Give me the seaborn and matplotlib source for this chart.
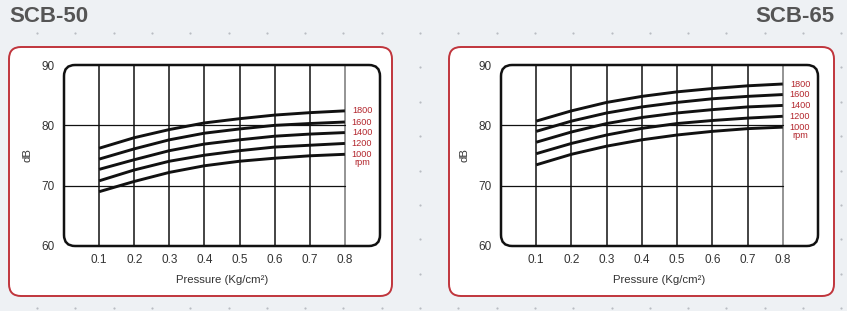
import numpy as np
import pandas as pd
import matplotlib
matplotlib.use("Agg")
import matplotlib.pyplot as plt
from matplotlib.patches import FancyBboxPatch
import seaborn as sns

sns.set_theme(style="white")
plt.rcParams['font.family'] = ['Liberation Sans', 'DejaVu Sans']

pressure = [0.1, 0.2, 0.3, 0.4, 0.5, 0.6, 0.7, 0.8]
rpm_labels = ["1800", "1600", "1400", "1200", "1000"]

scb50_1800 = [76.2, 77.95, 79.3, 80.4, 81.1, 81.7, 82.1, 82.4]
scb50_1600 = [74.4, 76.1, 77.6, 78.7, 79.4, 80.0, 80.3, 80.55]
scb50_1400 = [72.7, 74.3, 75.8, 76.9, 77.6, 78.2, 78.55, 78.8]
scb50_1200 = [70.8, 72.6, 74.05, 75.05, 75.8, 76.4, 76.7, 77.0]
scb50_1000 = [69.0, 70.7, 72.2, 73.3, 74.05, 74.55, 74.95, 75.2]

scb65_1800 = [80.7, 82.4, 83.8, 84.8, 85.55, 86.1, 86.55, 86.85]
scb65_1600 = [79.0, 80.7, 82.05, 83.05, 83.8, 84.4, 84.8, 85.1]
scb65_1400 = [77.2, 78.9, 80.3, 81.3, 82.05, 82.6, 83.05, 83.3]
scb65_1200 = [75.3, 77.0, 78.4, 79.5, 80.3, 80.8, 81.2, 81.5]
scb65_1000 = [73.45, 75.2, 76.55, 77.6, 78.4, 79.0, 79.45, 79.7]

titles = ["SCB-50", "SCB-65"]
yticks = [60, 70, 80, 90]
xlabel = "Pressure (Kg/cm²)"
ylabel = "dB"

series = {
    "SCB-50": [scb50_1800, scb50_1600, scb50_1400, scb50_1200, scb50_1000],
    "SCB-65": [scb65_1800, scb65_1600, scb65_1400, scb65_1200, scb65_1000],
}

W, H = 847, 311
fig = plt.figure(figsize=(W / 100, H / 100), dpi=100)
bg = "#eef1f4"
fig.patch.set_facecolor(bg)

# background dot pattern (decoration)
dot_x = np.arange(37, W, 38.3)
dot_y = np.arange(33, H, 34.4)
gx, gy = np.meshgrid(dot_x, dot_y)
bgax = fig.add_axes([0, 0, 1, 1], zorder=-10)
bgax.set_xlim(0, W); bgax.set_ylim(H, 0); bgax.axis("off")
bgax.scatter(gx.ravel(), gy.ravel(), s=2.5, color="#b9bdc2", linewidths=0)

red = "#c0353c"
panels = [(9, 47, 392, 296), (449, 47, 834, 296)]
axes_px = [(64, 65, 380, 246), (501, 65, 818, 246)]

for (x0, y0, x1, y1) in panels:
    p = FancyBboxPatch((x0, y0), x1 - x0, y1 - y0,
                       boxstyle="round,pad=0,rounding_size=12",
                       facecolor="white", edgecolor=red, linewidth=1.4,
                       transform=bgax.transData, zorder=1)
    bgax.add_patch(p)

fig.text(9 / W, 1 - 17 / H, titles[0], ha="left", va="center",
         fontsize=16, fontweight="bold", color="#555555")
fig.text(834 / W, 1 - 17 / H, titles[1], ha="right", va="center",
         fontsize=16, fontweight="bold", color="#555555")

for i, name in enumerate(titles):
    ax0, ay0, ax1, ay1 = axes_px[i]
    ax = fig.add_axes([ax0 / W, 1 - ay1 / H, (ax1 - ax0) / W, (ay1 - ay0) / H])
    ax.set_facecolor("none")
    rows = []
    for lab, vals in zip(rpm_labels, series[name]):
        for x, v in zip(pressure, vals):
            rows.append({"Pressure": x, "dB": v, "rpm": lab})
    df = pd.DataFrame(rows)

    # grid
    for x in pressure:
        ax.axvline(x, color="#777777" if x == 0.8 else "#111111",
                   lw=1.1, zorder=1)
    for y in [70, 80]:
        ax.plot([0, 0.8], [y, y], color="#111111", lw=0.9, zorder=1)

    sns.lineplot(data=df, x="Pressure", y="dB", units="rpm", estimator=None,
                 color="#111111", linewidth=2.1, ax=ax, zorder=3,
                 solid_capstyle="butt")

    for lab, vals in zip(rpm_labels, series[name]):
        ax.text(0.849, vals[-1], lab, color="#b3262d", fontsize=6.6,
                ha="center", va="center")
    ax.text(0.849, series[name][-1][-1] - 1.4, "rpm", color="#b3262d",
            fontsize=6.6, ha="center", va="center")

    ax.set_xlim(0, 0.9)
    ax.set_ylim(60, 90)
    ax.set_xticks(pressure)
    ax.set_xticklabels([f"{x:.1f}" for x in pressure])
    ax.set_yticks(yticks)
    ax.tick_params(axis="both", length=0, labelsize=8.5, colors="#333333")
    ax.tick_params(axis="x", pad=6)
    ax.tick_params(axis="y", pad=7)
    ax.set_xlabel(xlabel, fontsize=8.2, color="#333333", labelpad=6)
    ax.set_ylabel(ylabel, fontsize=8.2, color="#333333", labelpad=6)
    for s in ax.spines.values():
        s.set_visible(False)
    frame = FancyBboxPatch((0, 0), 1, 1,
                           boxstyle="round,pad=0,rounding_size=0.035",
                           transform=ax.transAxes, facecolor="none",
                           edgecolor="#111111", linewidth=1.8, zorder=5,
                           clip_on=False, mutation_aspect=(ax1 - ax0) / (ay1 - ay0))
    ax.add_patch(frame)
    ax.grid(False)

fig.savefig("out.png", dpi=100, facecolor=bg)
